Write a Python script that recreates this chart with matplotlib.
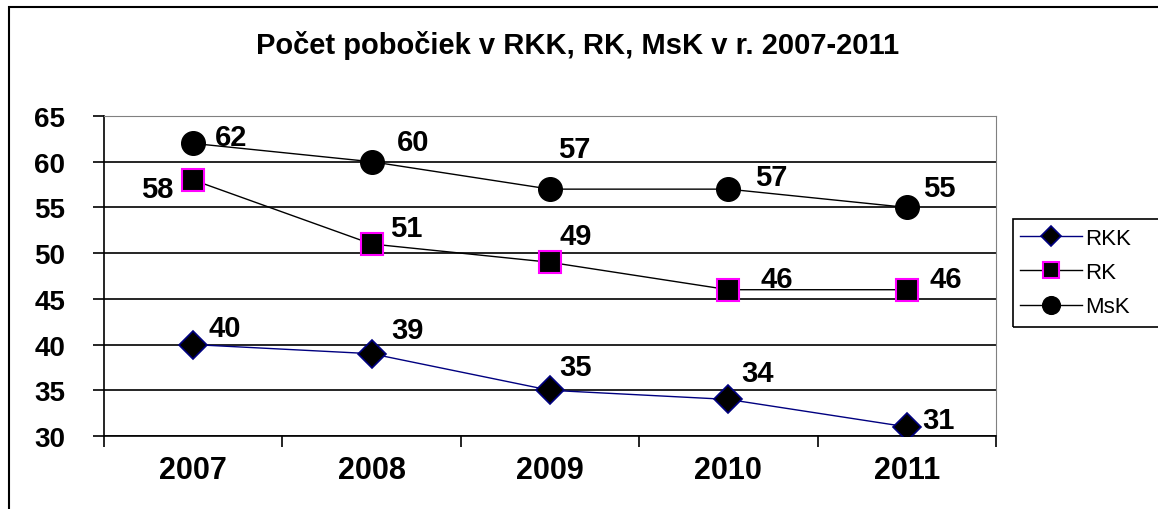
import matplotlib.pyplot as plt
from matplotlib.patches import Rectangle

years = ['2007', '2008', '2009', '2010', '2011']
rkk = [40, 39, 35, 34, 31]
rk = [58, 51, 49, 46, 46]
msk = [62, 60, 57, 57, 55]

# label offsets in pixels (dx, dy; dy positive = up)
rkk_off = [(32, 17), (36, 24), (26, 23), (29, 26), (32, 7)]
rk_off = [(-36, -9), (35, 16), (26, 26), (48, 11), (39, 11)]
msk_off = [(38, 6), (42, 20), (24, 40), (43, 12), (32, 19)]

plt.rcParams['font.family'] = ['Liberation Sans', 'DejaVu Sans']

fig = plt.figure(figsize=(11.58, 5.1), dpi=100)
ax = fig.add_axes([104 / 1158, 1 - 437 / 510, 892 / 1158, 320 / 510])

# outer chart border
fig.patches.append(Rectangle((9 / 1158, -0.05), 1.2, 1 - 8 / 510 + 0.05,
                             transform=fig.transFigure, fill=False,
                             edgecolor='black', linewidth=1.5))
# legend box, runs off the right edge like in the original
fig.patches.append(Rectangle((1013 / 1158, 1 - 328 / 510), 0.2, 108 / 510,
                             transform=fig.transFigure, fill=False,
                             edgecolor='black', linewidth=1.2))

x = range(len(years))
ax.plot(x, rkk, color='#000080', lw=1, marker='D', ms=14,
        mfc='black', mec='#000080', mew=1.2, label='RKK', zorder=3)
ax.plot(x, rk, color='black', lw=1, marker='s', ms=16,
        mfc='black', mec='#FF00FF', mew=1.5, label='RK', zorder=3)
ax.plot(x, msk, color='black', lw=1, marker='o', ms=17,
        mfc='black', mec='black', label='MsK', zorder=3)

for vals, offs in [(rkk, rkk_off), (rk, rk_off), (msk, msk_off)]:
    for i, (v, (dx, dy)) in enumerate(zip(vals, offs)):
        ax.annotate(str(v), (i, v), xytext=(dx * 0.72, dy * 0.72),
                    textcoords='offset points', ha='center', va='center',
                    fontsize=21, fontweight='bold')

ax.set_xlim(-0.5, 4.5)
ax.set_ylim(30, 65)
ax.set_yticks(range(30, 66, 5))
ax.set_xticks([i - 0.5 for i in range(6)])
ax.set_xticklabels([])
ax.set_xticks(list(x), minor=True)
ax.set_xticklabels(years, minor=True)
ax.tick_params(axis='x', which='minor', length=0, pad=14, labelsize=22)
ax.tick_params(axis='x', which='major', length=8, width=1.2)
ax.tick_params(axis='y', length=8, width=1.2, labelsize=20, pad=20)
for lbl in ax.get_xticklabels(minor=True) + ax.get_yticklabels():
    lbl.set_fontweight('bold')

ax.yaxis.grid(True, color='black', lw=1.2)
ax.set_axisbelow(True)
ax.spines['left'].set_linewidth(1.2)
ax.spines['bottom'].set_linewidth(1.2)
ax.spines['top'].set_color('#808080')
ax.spines['right'].set_color('#808080')

fig.text(578 / 1158, 1 - 46 / 510, 'Počet pobočiek v RKK, RK, MsK v r. 2007-2011',
         ha='center', va='center', fontsize=21, fontweight='bold')

leg = fig.legend(loc='upper left', bbox_to_anchor=(1013 / 1158, 1 - 222 / 510),
                 frameon=False, fontsize=16, handlelength=2.8, borderpad=0.3,
                 labelspacing=0.6, handletextpad=0.15, borderaxespad=0,
                 markerscale=0.75)

fig.savefig('out.png', dpi=100)
